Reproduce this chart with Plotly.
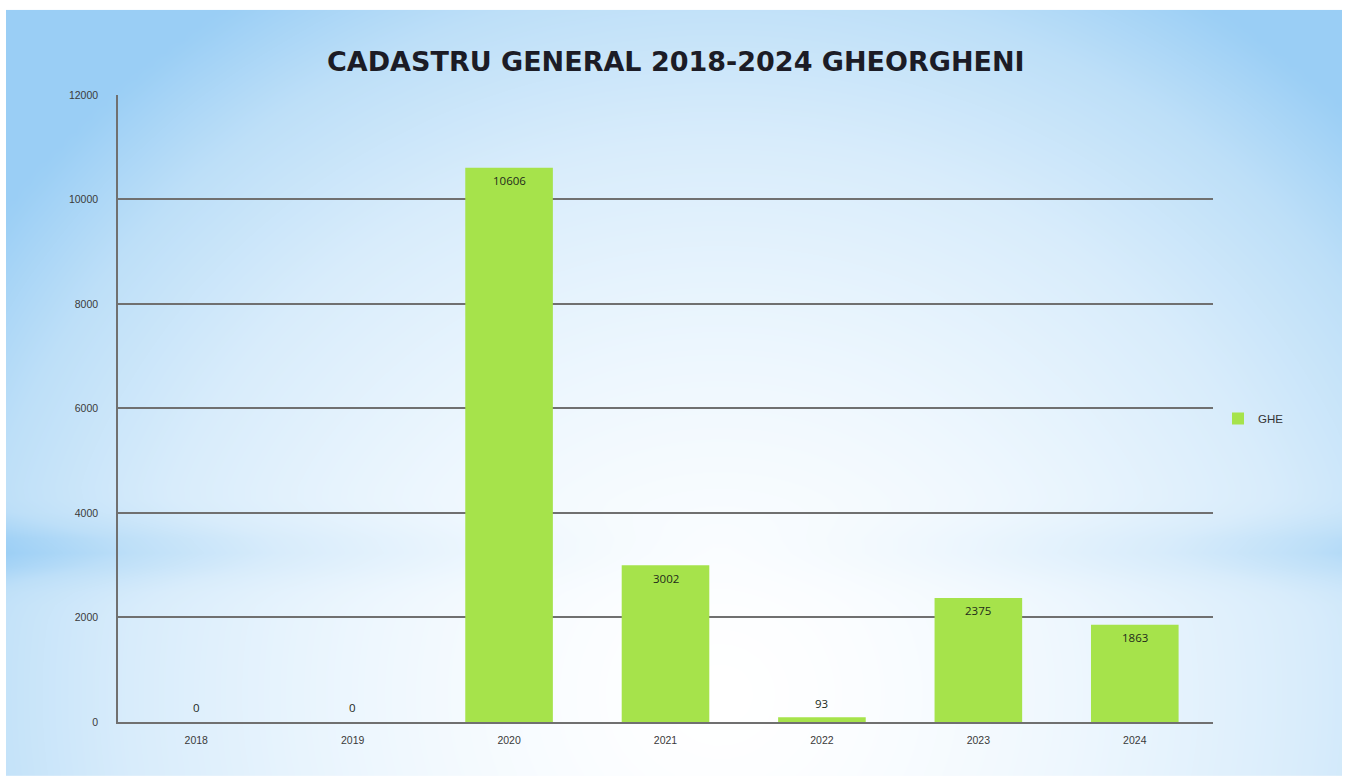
import numpy as np
import plotly.graph_objects as go

years = ["2018", "2019", "2020", "2021", "2022", "2023", "2024"]
values = [0, 0, 10606, 3002, 93, 2375, 1863]
series_name = "GHE"
title_text = "CADASTRU GENERAL 2018-2024 GHEORGHENI"

W, H = 1351, 782


def fy(Y):
    """paper fraction for a target picture row (compensates page framing)."""
    return 1 - ((Y - 6.2) / 0.983) / H


# --- decorative background (radial light-blue gradient) ---
gx = np.linspace(0, W, 90)
gy = np.linspace(0, H, 60)
X, Y = np.meshgrid(gx, gy)
r = np.sqrt(((X - 720) / 740.0) ** 2 + ((Y - 700) / 700.0) ** 2)
t = np.clip(r, 0, 1.3) ** 1.5
band = 0.3 * np.exp(-((Y - 555) / 30.0) ** 2) * np.clip(np.abs(X - 720) / 600.0, 0, 1)
t = np.clip(t + band, 0, 1.3)
bg_scale = [[0.0, "#ffffff"], [0.25, "#eef7fe"], [0.55, "#d8ecfb"], [0.8, "#bddff8"], [1.0, "#9acef5"]]

fig = go.Figure()
fig.add_trace(go.Heatmap(
    x=gx, y=gy, z=t, colorscale=bg_scale, zmin=0, zmax=1.3, zsmooth="best",
    showscale=False, hoverinfo="skip", xaxis="x", yaxis="y",
))

fig.add_trace(go.Bar(
    x=years, y=values, name=series_name, xaxis="x2", yaxis="y2",
    marker=dict(color="#a6e34b", line=dict(width=0)),
    hoverinfo="x+y",
))

# value labels (inside top for tall bars, above for small ones)
label_font = dict(family="Open Sans", size=11.5, color="#222a1a")
annotations = []
for i, v in enumerate(values):
    annotations.append(dict(
        x=i, y=v, xref="x2", yref="y2", text=str(v), showarrow=False,
        xanchor="center", yanchor="middle", yshift=(-13 if v > 500 else 14),
        font=label_font,
    ))

annotations.append(dict(text="<b>" + title_text + "</b>", x=676 / W, y=fy(62),
                        xref="paper", yref="paper", xanchor="center", yanchor="middle",
                        showarrow=False, font=dict(family="DejaVu Sans", size=27, color="#1c1c26")))

fig.update_layout(
    width=W, height=H,
    margin=dict(l=0, r=0, t=0, b=0),
    paper_bgcolor="white", plot_bgcolor="rgba(0,0,0,0)",
    bargap=0.44,
    showlegend=True,
    legend=dict(x=1218 / W, y=fy(418), xanchor="left", yanchor="middle",
                bgcolor="rgba(0,0,0,0)", font=dict(family="Liberation Sans", size=11.5, color="#333"),
                itemwidth=30),
    xaxis=dict(domain=[6 / W, 1342 / W], range=[6, 1342], visible=False, fixedrange=True),
    yaxis=dict(domain=[0, fy(10)], range=[H, 10], visible=False, fixedrange=True),
    xaxis2=dict(type="category", categoryorder="array", categoryarray=years,
                range=[-0.5, len(years) - 0.5],
                domain=[118 / W, 1213 / W], anchor="y2", showgrid=False,
                showline=True, linecolor="#707070", linewidth=1.5, ticks="",
                tickfont=dict(family="Liberation Sans", size=10.5, color="#3a3a3a"),
                ticklabelstandoff=8),
    yaxis2=dict(domain=[fy(721), fy(95)], anchor="x2", range=[0, 12000], dtick=2000,
                tickformat="d",
                showgrid=True, gridcolor="#707070", gridwidth=1.5, showline=True,
                linecolor="#707070", linewidth=1.5, zeroline=False, ticks="",
                tickfont=dict(family="Liberation Sans", size=10.5, color="#3a3a3a"),
                ticklabelstandoff=16),
    annotations=annotations,
)

post = (
    "var gd=document.getElementById('{plot_id}');"
    "gd.style.position='fixed';gd.style.left='0px';gd.style.top='0px';"
    "document.documentElement.style.background="
    "'linear-gradient(to bottom, #ffffff 0 50%, rgba(255,255,255,0) 50%),"
    " linear-gradient(to right, #a6d3f6 0%, #e9f5fe 25%, #ffffff 45%, #f2f9ff 65%, #a6d3f6 100%)';"
)
fig.write_html("out.html", config={"displayModeBar": False}, post_script=post)
